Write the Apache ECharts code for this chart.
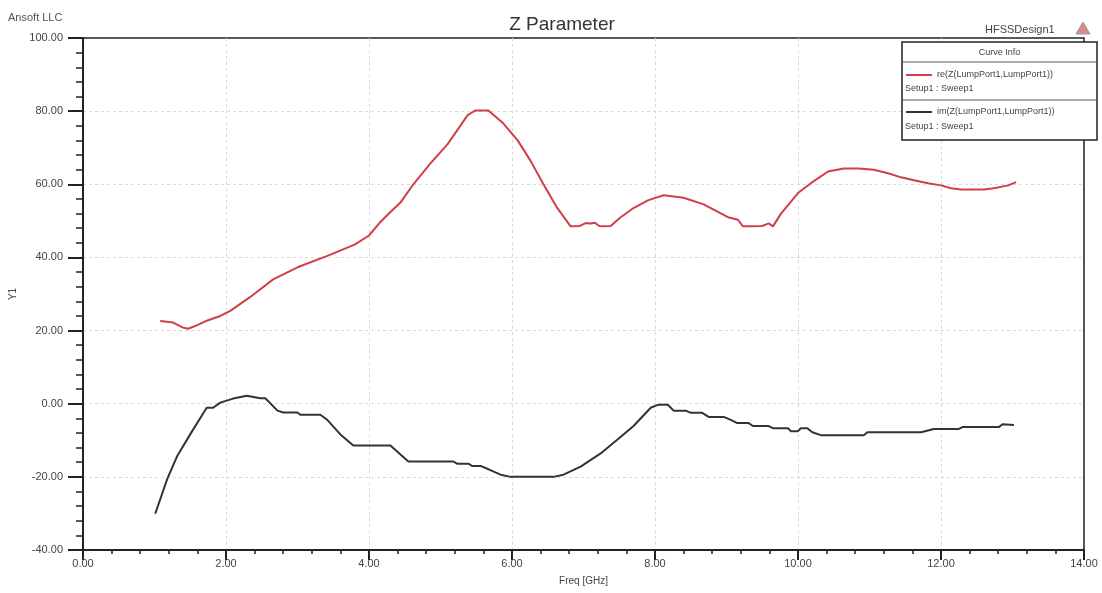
<!DOCTYPE html>
<html>
<head>
<meta charset="utf-8">
<script src="https://cdn.jsdelivr.net/npm/echarts@6/dist/echarts.min.js"></script>
<style>
  html, body { margin: 0; padding: 0; background: #ffffff; }
  #chart { width: 1102px; height: 593px; }
</style>
</head>
<body>
<div id="chart"></div>
<script>
// Z parameter of LumpPort1 versus frequency (GHz)
const reFreq = [1.08, 1.26, 1.40, 1.47, 1.60, 1.73, 1.92, 2.06, 2.34, 2.66, 3.00, 3.40, 3.80, 4.00, 4.16, 4.30, 4.44, 4.62, 4.85, 5.10, 5.38, 5.49, 5.67, 5.88, 6.08, 6.26, 6.44, 6.63, 6.82, 6.95, 7.03, 7.10, 7.16, 7.22, 7.30, 7.38, 7.52, 7.70, 7.90, 8.12, 8.40, 8.68, 9.02, 9.16, 9.23, 9.34, 9.50, 9.59, 9.65, 9.76, 10.00, 10.18, 10.42, 10.64, 10.85, 11.06, 11.26, 11.44, 11.62, 11.82, 12.00, 12.14, 12.28, 12.60, 12.74, 12.94, 13.05];
const reValues = [22.6, 22.2, 20.8, 20.5, 21.5, 22.7, 24.0, 25.4, 29.2, 34.0, 37.3, 40.3, 43.5, 46.0, 49.7, 52.4, 55.0, 60.0, 65.5, 71.0, 78.9, 80.2, 80.2, 76.6, 72.0, 66.4, 60.0, 53.6, 48.5, 48.6, 49.4, 49.3, 49.5, 48.6, 48.5, 48.6, 51.0, 53.5, 55.6, 57.0, 56.3, 54.5, 51.0, 50.3, 48.5, 48.5, 48.6, 49.3, 48.5, 51.9, 57.6, 60.3, 63.5, 64.3, 64.3, 64.0, 63.0, 61.9, 61.1, 60.3, 59.7, 58.9, 58.6, 58.6, 58.9, 59.7, 60.6];

const imFreq = [1.01, 1.18, 1.32, 1.52, 1.73, 1.82, 1.92, 2.10, 2.29, 2.48, 2.55, 2.72, 2.80, 3.00, 3.04, 3.32, 3.41, 3.60, 3.78, 4.30, 4.44, 4.55, 5.18, 5.23, 5.39, 5.44, 5.56, 5.68, 5.84, 5.98, 6.58, 6.72, 6.96, 7.24, 7.48, 7.70, 7.94, 8.04, 8.18, 8.26, 8.43, 8.50, 8.66, 8.75, 8.96, 9.06, 9.15, 9.31, 9.37, 9.59, 9.65, 9.86, 9.90, 10.00, 10.04, 10.13, 10.20, 10.32, 10.92, 10.97, 11.72, 11.90, 12.25, 12.30, 12.81, 12.86, 13.02];
const imValues = [-30.1, -20.5, -14.2, -7.7, -1.1, -1.1, 0.3, 1.4, 2.2, 1.5, 1.5, -1.9, -2.4, -2.4, -3.0, -3.0, -4.3, -8.4, -11.4, -11.4, -13.9, -15.8, -15.8, -16.4, -16.4, -17.0, -17.0, -18.0, -19.4, -20.0, -20.0, -19.4, -17.2, -13.6, -9.7, -6.1, -1.1, -0.3, -0.3, -1.9, -1.9, -2.5, -2.5, -3.6, -3.6, -4.4, -5.3, -5.3, -6.1, -6.1, -6.7, -6.7, -7.5, -7.5, -6.7, -6.7, -7.8, -8.6, -8.6, -7.8, -7.8, -6.9, -6.9, -6.4, -6.4, -5.6, -5.8];

const seriesNames = ['re(Z(LumpPort1,LumpPort1))', 'im(Z(LumpPort1,LumpPort1))'];
const seriesColors = ['#cf3f47', '#333333'];
const setupLabel = 'Setup1 : Sweep1';

const font = 'Liberation Sans, Arial, sans-serif';
const toPairs = (xs, ys) => xs.map((x, i) => [x, ys[i]]);

const chart = echarts.init(document.getElementById('chart'), null, { renderer: 'canvas' });

const legendLeft = 902, legendTop = 42, legendW = 195, legendH = 98;
const gridLine = { show: true, showMinLine: false, showMaxLine: false, lineStyle: { color: '#d9d9d9', width: 1, type: [3, 3] } };

chart.setOption({
  backgroundColor: '#ffffff',
  animation: false,
  title: {
    text: 'Z Parameter',
    left: 557, top: 10,
    textAlign: 'center',
    textStyle: { fontFamily: font, fontSize: 19, fontWeight: 'normal', color: '#333' }
  },
  grid: {
    left: 83, right: 18, top: 38, bottom: 43,
    show: true, borderColor: '#222', borderWidth: 1.5, backgroundColor: 'transparent'
  },
  xAxis: {
    type: 'value', min: 0, max: 14, interval: 2,
    name: 'Freq [GHz]', nameLocation: 'middle', nameGap: 26,
    nameTextStyle: { fontFamily: font, fontSize: 10, color: '#444' },
    axisLine: { show: true, onZero: false, lineStyle: { color: '#222', width: 2 } },
    axisTick: { show: true, inside: false, length: 10, lineStyle: { color: '#222', width: 2 } },
    minorTick: { show: true, splitNumber: 5, length: 4, lineStyle: { color: '#222', width: 1.5 } },
    axisLabel: { fontFamily: font, fontSize: 11, color: '#444', margin: 8, formatter: v => v.toFixed(2) },
    splitLine: gridLine
  },
  yAxis: {
    type: 'value', min: -40, max: 100, interval: 20,
    name: 'Y1', nameLocation: 'middle', nameGap: 62, nameRotate: 90,
    nameTextStyle: { fontFamily: font, fontSize: 10, color: '#444' },
    axisLine: { show: true, onZero: false, lineStyle: { color: '#222', width: 2 } },
    axisTick: { show: true, inside: false, length: 15, lineStyle: { color: '#222', width: 2 } },
    minorTick: { show: true, splitNumber: 5, length: 7, lineStyle: { color: '#222', width: 1.5 } },
    axisLabel: { fontFamily: font, fontSize: 11, color: '#444', margin: 20, formatter: v => v.toFixed(2) },
    splitLine: gridLine
  },
  series: [
    {
      name: seriesNames[0], type: 'line', showSymbol: false, smooth: false,
      data: toPairs(reFreq, reValues),
      lineStyle: { color: seriesColors[0], width: 2 }, itemStyle: { color: seriesColors[0] }
    },
    {
      name: seriesNames[1], type: 'line', showSymbol: false, smooth: false,
      data: toPairs(imFreq, imValues),
      lineStyle: { color: seriesColors[1], width: 2 }, itemStyle: { color: seriesColors[1] }
    }
  ],
  graphic: [
    { type: 'text', left: 8, top: 12, style: { text: 'Ansoft LLC', font: '11px ' + font, fill: '#555' } },
    { type: 'text', left: 985, top: 24, style: { text: 'HFSSDesign1', font: '11px ' + font, fill: '#444' } },
    { type: 'polygon', shape: { points: [[1076, 34], [1083, 22], [1090, 34]] }, style: { fill: '#d98b8b', stroke: '#999', lineWidth: 1 } },
    { type: 'rect', shape: { x: legendLeft, y: legendTop, width: legendW, height: legendH },
      style: { fill: '#ffffff', stroke: '#222', lineWidth: 1.5 }, z: 100 },
    { type: 'text', z: 101, style: { x: legendLeft + legendW / 2, y: 48, text: 'Curve Info', font: '9px ' + font, fill: '#444', textAlign: 'center' } },
    { type: 'line', z: 101, shape: { x1: legendLeft, y1: 62, x2: legendLeft + legendW, y2: 62 }, style: { stroke: '#555', lineWidth: 1 } },
    { type: 'line', z: 101, shape: { x1: 906, y1: 75, x2: 932, y2: 75 }, style: { stroke: seriesColors[0], lineWidth: 2 } },
    { type: 'text', z: 101, style: { x: 937, y: 70, text: seriesNames[0], font: '9px ' + font, fill: '#444' } },
    { type: 'text', z: 101, style: { x: 905, y: 84, text: setupLabel, font: '9px ' + font, fill: '#444' } },
    { type: 'line', z: 101, shape: { x1: legendLeft, y1: 100, x2: legendLeft + legendW, y2: 100 }, style: { stroke: '#555', lineWidth: 1 } },
    { type: 'line', z: 101, shape: { x1: 906, y1: 112, x2: 932, y2: 112 }, style: { stroke: seriesColors[1], lineWidth: 2 } },
    { type: 'text', z: 101, style: { x: 937, y: 107, text: seriesNames[1], font: '9px ' + font, fill: '#444' } },
    { type: 'text', z: 101, style: { x: 905, y: 122, text: setupLabel, font: '9px ' + font, fill: '#444' } }
  ]
});
</script>
</body>
</html>
